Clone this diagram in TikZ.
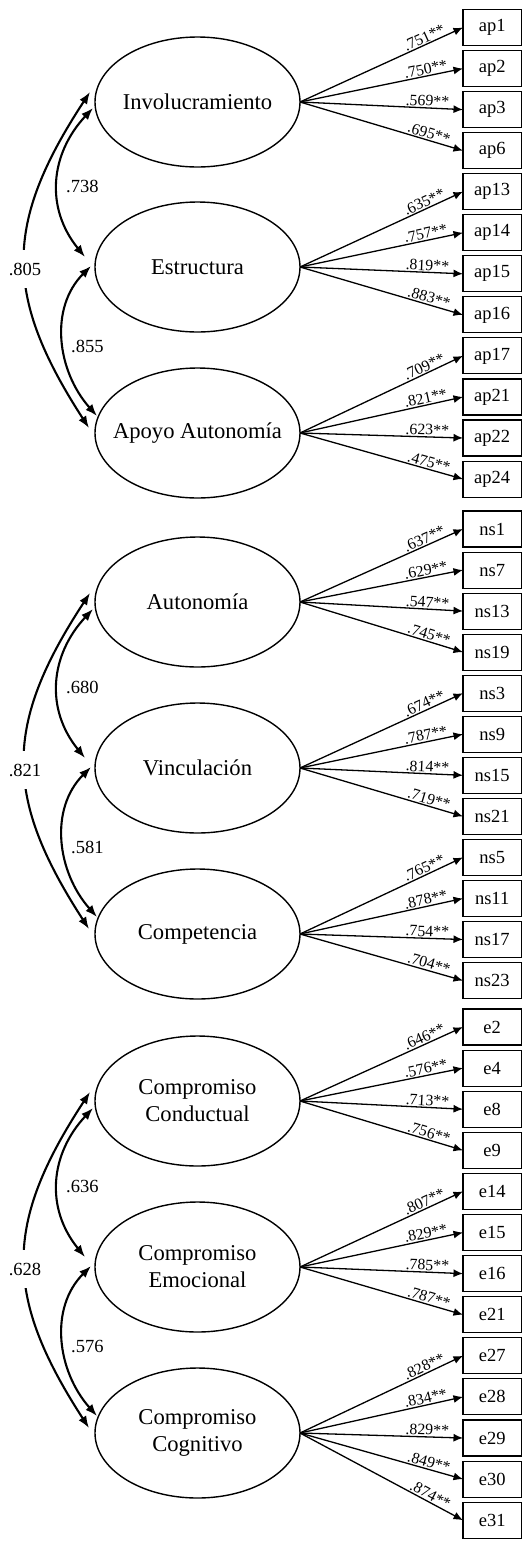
\documentclass[tikz,border=0pt]{standalone}
\usepackage{fontspec}
\setmainfont{Liberation Serif}
\usetikzlibrary{arrows.meta,shapes.geometric}

\begin{document}
\begin{tikzpicture}[x=1pt,y=-1pt,
  latent/.style={draw,ellipse,line width=1.4pt,minimum width=205pt,minimum height=130pt,inner sep=0pt,outer sep=0pt},
  lname/.style={font=\fontsize{22.6}{27}\selectfont,align=center,inner sep=0pt},
  item/.style={draw,line width=1.1pt,minimum width=58.3pt,minimum height=36pt,inner sep=0pt,outer sep=0pt,font=\fontsize{18.5}{20}\selectfont},
  load/.style={line width=1.3pt,-{Latex[length=9.5pt,width=8pt]}},
  coef/.style={pos=0.78,sloped,above=0.5pt,inner sep=0.5pt,font=\fontsize{15.8}{17}\selectfont},
  cov/.style={line width=2.1pt,{Latex[length=12pt,width=9pt]}-{Latex[length=12pt,width=9pt]}},
  covlab/.style={font=\fontsize{18.5}{20}\selectfont,inner sep=0pt}
]
\useasboundingbox (0,0) rectangle (522,1543);

% latent factors
\node[latent] (inv) at (197.5,102) {};
\node[latent] (est) at (197.5,267) {};
\node[latent] (apo) at (197.5,433) {};
\node[latent] (aut) at (197.5,602) {};
\node[latent] (vin) at (197.5,768) {};
\node[latent] (com) at (197.5,934) {};
\node[latent] (cco) at (197.5,1101) {};
\node[latent] (cem) at (197.5,1267) {};
\node[latent] (cog) at (197.5,1433) {};

\node[lname] (inv-n) at (inv) {Involucramiento};
\node[lname] (est-n) at (est) {Estructura};
\node[lname] (apo-n) at (apo) {Apoyo Autonomía};
\node[lname] (aut-n) at (aut) {Autonomía};
\node[lname] (vin-n) at (vin) {Vinculación};
\node[lname] (com-n) at (com) {Competencia};
\node[lname] (cco-n) at (cco) {Compromiso\\Conductual};
\node[lname] (cem-n) at (cem) {Compromiso\\Emocional};
\node[lname] (cog-n) at (cog) {Compromiso\\Cognitivo};

% observed indicators
\foreach \nm [count=\k from 0] in {ap1,ap2,ap3,ap6,ap13,ap14,ap15,ap16,ap17,ap21,ap22,ap24}
  \node[item] (\nm) at (492.15,{27.5+41.05*\k}) {\nm};
\foreach \nm [count=\k from 0] in {ns1,ns7,ns13,ns19,ns3,ns9,ns15,ns21,ns5,ns11,ns17,ns23}
  \node[item] (\nm) at (492.15,{529+41.05*\k}) {\nm};
\foreach \nm [count=\k from 0] in {e2,e4,e8,e9,e14,e15,e16,e21,e27,e28,e29,e30,e31}
  \node[item] (\nm) at (492.15,{1027+41.1*\k}) {\nm};

% factor loadings
\foreach \lv/\ind/\val in {
  inv/ap1/.751, inv/ap2/.750, inv/ap3/.569, inv/ap6/.695,
  est/ap13/.635, est/ap14/.757, est/ap15/.819, est/ap16/.883,
  apo/ap17/.709, apo/ap21/.821, apo/ap22/.623, apo/ap24/.475,
  aut/ns1/.637, aut/ns7/.629, aut/ns13/.547, aut/ns19/.745,
  vin/ns3/.674, vin/ns9/.787, vin/ns15/.814, vin/ns21/.719,
  com/ns5/.765, com/ns11/.878, com/ns17/.754, com/ns23/.704,
  cco/e2/.646, cco/e4/.576, cco/e8/.713, cco/e9/.756,
  cem/e14/.807, cem/e15/.829, cem/e16/.785, cem/e21/.787,
  cog/e27/.828, cog/e28/.834, cog/e29/.829, cog/e30/.849, cog/e31/.874}
  \draw[load] (\lv.east) -- node[coef] {\val**} (\ind.west);

% factor correlations
\foreach \g/\M/\ov/\va/\vb in {1/267/.805/.738/.855, 2/768/.821/.680/.581, 3/1267/.628/.636/.576} {
  \coordinate (g\g-o1) at (90,\M-175);
  \coordinate (g\g-o2) at (89,\M+161);
  \coordinate (g\g-a1) at (93,\M-159);
  \coordinate (g\g-a2) at (85,\M-10);
  \coordinate (g\g-b1) at (91,\M-1);
  \coordinate (g\g-b2) at (97,\M+149);
  \draw[cov] (g\g-o1) .. controls (3.5,\M-43) and (3.5,\M+29) .. (g\g-o2);
  \node[covlab,fill=white,inner ysep=13pt,inner xsep=1pt] (g\g-ol) at (25,\M+2) {\ov};
  \draw[cov] (g\g-a1) .. controls (50,\M-113) and (45,\M-59) .. (g\g-a2);
  \node[covlab,anchor=west] (g\g-al) at (66,\M-81) {\va};
  \draw[cov] (g\g-b1) .. controls (49,\M+41) and (57,\M+104) .. (g\g-b2);
  \node[covlab,anchor=west] (g\g-bl) at (71,\M+79) {\vb};
}
\end{tikzpicture}
\end{document}
